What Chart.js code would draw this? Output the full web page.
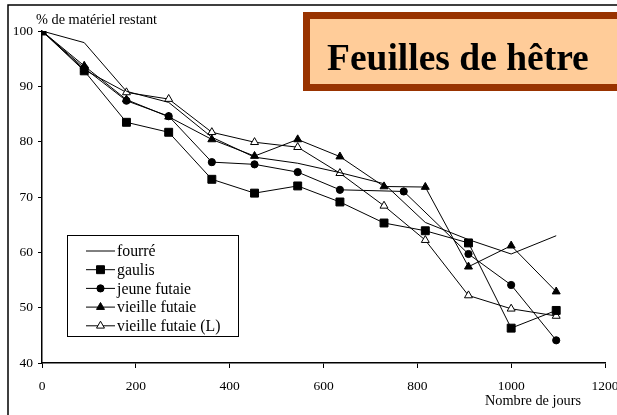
<!DOCTYPE html>
<html lang="fr">
<head>
<meta charset="utf-8">
<title>Feuilles de hêtre</title>
<script src="https://cdn.jsdelivr.net/npm/chart.js@4.4.1/dist/chart.umd.min.js"></script>
<style>
    html, body { margin: 0; padding: 0; background: #fff; }
    #wrap { width: 617px; height: 415px; }
</style>
</head>
<body>
<div id="wrap"><canvas id="chartHetre" width="617" height="415"></canvas></div>
<script>
// jours de prélèvement (axe x) et % de matériel restant par station
const jours = [0, 90, 180, 270, 362, 453, 545, 635, 729, 771, 817, 909, 1000, 1096];
const fourre = [100, 97.9, 89.1, 87.1, 80.8, 77.2, 76.1, 74.4, 72.4, null, 65.4, 62.3, 59.7, 63.0];
const gaulis = [100, 92.8, 83.5, 81.7, 73.2, 70.7, 72.0, 69.1, 65.3, null, 63.9, 61.7, 46.3, 49.5];
const jeuneFutaie = [100, 93.3, 87.4, 84.6, 76.3, 75.9, 74.5, 71.3, null, 71.0, null, 59.7, 54.1, 44.1];
const vieilleFutaie = [100, 93.7, 87.6, 84.5, 80.4, 77.4, 80.4, 77.3, 71.9, null, 71.8, 57.4, 61.2, 52.9];
const vieilleFutaieL = [100, 93.0, 88.9, 87.7, 81.7, 79.9, 79.0, 74.3, 68.4, null, 62.2, 52.2, 49.8, 48.5];

const series = ['fourré', 'gaulis', 'jeune futaie', 'vieille futaie', 'vieille futaie (L)'];
const xTicks = [0, 200, 400, 600, 800, 1000, 1200];
const yTicks = [40, 50, 60, 70, 80, 90, 100];

const titre = 'Feuilles de hêtre';
const titreY = '% de matériel restant';
const titreX = 'Nombre de jours';

const SERIF = "'Liberation Serif', 'Times New Roman', serif";

function points(vals) {
    return jours.map((j, i) => ({ x: j, y: vals[i] })).filter(p => p.y !== null);
}

function serie(label, vals, style, radius, fill) {
    return {
        label: label,
        data: points(vals),
        borderColor: '#000',
        borderWidth: 1,
        pointStyle: style,
        pointRadius: radius,
        pointHoverRadius: radius,
        pointBackgroundColor: fill,
        pointBorderColor: '#000',
        pointBorderWidth: 1,
        tension: 0,
        spanGaps: true
    };
}

// fond blanc, cadre, titre encadré, légende et titres d'axes
const decor = {
    id: 'decor',
    beforeDraw(chart) {
        const ctx = chart.ctx;
        ctx.save();
        ctx.fillStyle = '#fff';
        ctx.fillRect(0, 0, chart.width, chart.height);
        ctx.restore();
    },
    afterDraw(chart) {
        const ctx = chart.ctx;
        ctx.save();

        // cadre extérieur
        ctx.strokeStyle = '#000';
        ctx.lineWidth = 1.5;
        ctx.beginPath();
        ctx.moveTo(8, chart.height + 5);
        ctx.lineTo(8, 5);
        ctx.lineTo(chart.width + 5, 5);
        ctx.stroke();

        // boîte du titre
        ctx.fillStyle = '#993300';
        ctx.fillRect(303, 12, 330, 79);
        ctx.fillStyle = '#ffcc99';
        ctx.fillRect(310, 19, 316, 65);
        ctx.fillStyle = '#000';
        ctx.font = "bold 37.5px " + SERIF;
        ctx.textBaseline = 'alphabetic';
        ctx.textAlign = 'left';
        ctx.fillText(titre, 327, 70);

        // titres des axes
        ctx.font = "14.3px " + SERIF;
        ctx.fillText(titreY, 36, 24);
        ctx.fillText(titreX, 485, 405);

        // légende
        const lx = 67.5, ly = 235.5, lw = 171, lh = 101;
        ctx.fillStyle = '#fff';
        ctx.fillRect(lx, ly, lw, lh);
        ctx.strokeStyle = '#000';
        ctx.lineWidth = 1;
        ctx.strokeRect(lx, ly, lw, lh);
        ctx.font = "15.8px " + SERIF;
        ctx.textBaseline = 'middle';
        chart.data.datasets.forEach((ds, i) => {
            const y = 251 + i * 18.7;
            ctx.strokeStyle = '#000';
            ctx.lineWidth = 1;
            ctx.beginPath();
            ctx.moveTo(86, y);
            ctx.lineTo(115, y);
            ctx.stroke();
            if (ds.pointRadius > 0) {
                ctx.fillStyle = ds.pointBackgroundColor;
                Chart.helpers.drawPoint(ctx, {
                    pointStyle: ds.pointStyle,
                    radius: ds.pointRadius,
                    borderWidth: 1,
                    rotation: 0
                }, 100.5, y);
            }
            ctx.fillStyle = '#000';
            ctx.fillText(ds.label, 117, y + 1);
        });
        ctx.restore();
    }
};

document.addEventListener('DOMContentLoaded', () => {
    const ctx = document.getElementById('chartHetre').getContext('2d');
    new Chart(ctx, {
        type: 'line',
        data: {
            datasets: [
                serie(series[0], fourre, 'circle', 0, '#000'),
                serie(series[1], gaulis, 'rect', 5.6, '#000'),
                serie(series[2], jeuneFutaie, 'circle', 3.6, '#000'),
                serie(series[3], vieilleFutaie, 'triangle', 4.6, '#000'),
                serie(series[4], vieilleFutaieL, 'triangle', 4.6, '#fff')
            ]
        },
        options: {
            responsive: false,
            animation: false,
            events: [],
            layout: { padding: { left: 0, top: 31, right: 12, bottom: 0 } },
            plugins: {
                legend: { display: false },
                title: { display: false },
                tooltip: { enabled: false }
            },
            scales: {
                x: {
                    type: 'linear',
                    min: 0, max: 1200,
                    afterBuildTicks: scale => { scale.ticks = xTicks.map(v => ({ value: v })); },
                    afterFit: scale => {
                        scale.height = 52;
                        // les étiquettes débordent, sans réserver de marge
                        scale.paddingLeft = 0;
                        scale.paddingRight = 0;
                    },
                    ticks: {
                        color: '#000', font: { family: SERIF, size: 13.5 }, padding: 10, maxRotation: 0,
                        callback: v => String(v)
                    },
                    grid: { drawOnChartArea: false, drawTicks: true, tickLength: 5, color: '#000', lineWidth: 1 },
                    border: { color: '#000', width: 1.5 }
                },
                y: {
                    min: 40, max: 100,
                    afterBuildTicks: scale => { scale.ticks = yTicks.map(v => ({ value: v })); },
                    afterFit: scale => {
                        scale.width = 42;
                        scale.paddingTop = 0;
                        scale.paddingBottom = 0;
                    },
                    ticks: {
                        color: '#000', font: { family: SERIF, size: 13.5 }, padding: 5,
                        callback: v => String(v)
                    },
                    grid: { drawOnChartArea: false, drawTicks: true, tickLength: 4, color: '#000', lineWidth: 1 },
                    border: { color: '#000', width: 1.5 }
                }
            }
        },
        plugins: [decor]
    });
});
</script>
</body>
</html>
